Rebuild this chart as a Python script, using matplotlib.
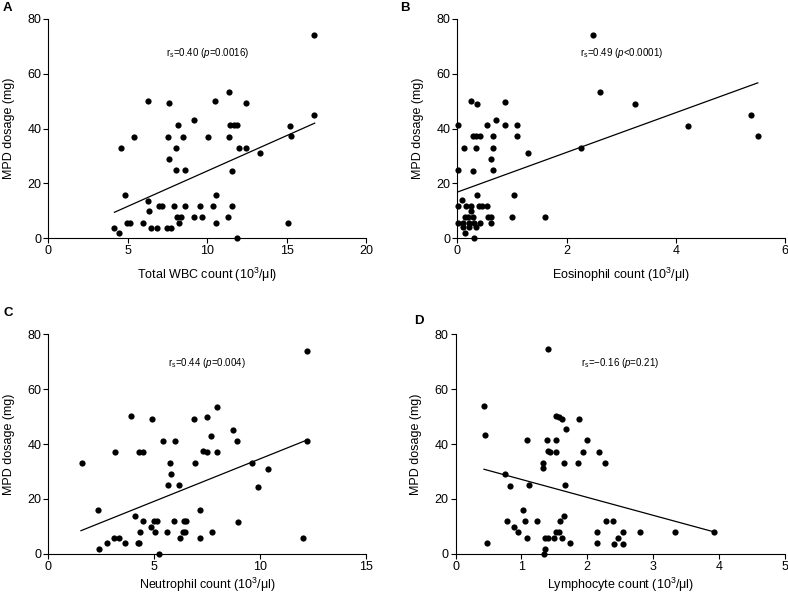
import numpy as np
import matplotlib
matplotlib.use("Agg")
import matplotlib.pyplot as plt

plt.rcParams['font.family'] = ['Liberation Sans', 'DejaVu Sans']
plt.rcParams['mathtext.fontset'] = 'custom'
plt.rcParams['mathtext.rm'] = 'Liberation Sans'
plt.rcParams['mathtext.it'] = 'Liberation Sans:italic'

# MPD dosage (mg) against blood counts (10^3/ul)
wbc_x = [4.14, 4.45, 4.56, 4.83, 4.92, 5.15, 5.38, 5.95, 6.24, 6.24, 6.33, 6.47, 6.85, 6.95,
         7.14, 7.46, 7.69, 7.52, 7.56, 7.56, 7.92, 8.0, 8.05, 8.17, 8.11, 8.36, 8.24, 8.47,
         8.59, 8.59, 9.18, 9.18, 9.52, 9.66, 10.06, 10.33, 10.46, 10.52, 10.52, 11.32, 11.34,
         11.34, 11.45, 11.66, 11.87, 11.53, 11.53, 11.87, 12.0, 12.46, 12.46, 13.34, 15.06,
         15.19, 15.29, 16.72, 16.72]
wbc_y = [3.8, 1.8, 33.1, 15.8, 5.7, 5.7, 37.1, 5.7, 50.0, 13.7, 9.8, 3.8, 3.8, 11.7,
         11.7, 3.8, 3.8, 37.1, 49.2, 29.1, 11.7, 25.0, 33.1, 41.2, 7.8, 7.8, 5.7, 37.1,
         25.0, 11.7, 43.2, 7.8, 11.7, 7.8, 37.1, 11.7, 50.0, 15.8, 5.7, 7.8, 53.5,
         37.1, 41.2, 41.2, 41.2, 24.6, 11.7, 0.0, 33.1, 33.1, 49.2, 31.0, 5.7,
         41.0, 37.5, 45.1, 74.0]

eos_x = [0.02, 0.02, 0.02, 0.02, 0.09, 0.10, 0.11, 0.13, 0.15, 0.15, 0.19, 0.16, 0.21, 0.22,
         0.25, 0.25, 0.26, 0.28, 0.29, 0.29, 0.30, 0.30, 0.34, 0.35, 0.35, 0.36, 0.36, 0.41,
         0.40, 0.41, 0.46, 0.54, 0.54, 0.56, 0.62, 0.62, 0.62, 0.66, 0.66, 0.66, 0.71, 0.88,
         0.88, 1.00, 1.04, 1.09, 1.10, 1.30, 1.60, 2.26, 2.48, 2.61, 3.26, 4.23, 5.38, 5.50]
eos_y = [41.2, 25.0, 11.8, 5.7, 13.9, 5.7, 4.0, 33.1, 1.8, 7.7, 7.7, 11.8, 5.7, 4.0,
         11.8, 50.1, 9.8, 37.2, 24.7, 7.7, 5.7, 0.0, 37.2, 33.1, 4.0, 49.1, 15.7, 37.2,
         11.8, 5.7, 11.8, 11.8, 41.2, 7.7, 7.7, 28.9, 5.7, 37.2, 33.1, 25.0, 43.0, 49.8,
         41.2, 7.7, 15.7, 41.2, 37.2, 31.0, 7.7, 33.0, 74.0, 53.5, 49.1, 41.0, 45.1, 37.5]

neu_x = [1.57, 2.36, 2.41, 2.77, 3.11, 3.32, 3.13, 3.63, 3.90, 4.11, 4.22, 4.29, 4.26, 4.48,
         4.33, 4.48, 4.83, 4.89, 4.99, 5.11, 5.03, 5.24, 5.42, 5.63, 5.62, 5.72, 5.77, 5.95,
         5.99, 6.16, 6.21, 6.35, 6.45, 6.40, 6.51, 6.89, 6.90, 7.14, 7.14, 7.28, 7.47, 7.49,
         7.69, 7.72, 7.97, 7.97, 8.73, 8.89, 8.93, 9.63, 9.90, 10.35, 11.99, 12.21, 12.21]
neu_y = [33.1, 15.8, 1.7, 3.8, 5.8, 5.8, 37.0, 3.8, 50.2, 13.7, 3.8, 3.8, 37.0, 37.0,
         7.8, 11.8, 9.7, 49.0, 11.8, 11.8, 7.8, 0.0, 41.0, 24.9, 7.8, 33.1, 29.1, 11.8,
         41.0, 24.9, 5.8, 7.8, 7.8, 11.8, 11.8, 49.0, 33.1, 15.8, 5.8, 37.6, 37.0, 50.0,
         43.0, 7.8, 53.6, 37.0, 45.1, 41.1, 11.7, 33.0, 24.5, 31.0, 5.6, 74.1, 41.1]

lym_x = [0.43, 0.45, 0.48, 0.75, 0.78, 0.83, 0.88, 0.95, 1.02, 1.06, 1.08, 1.09, 1.11, 1.23,
         1.33, 1.33, 1.34, 1.35, 1.36, 1.40, 1.38, 1.41, 1.41, 1.44, 1.49, 1.52, 1.57, 1.61,
         1.53, 1.53, 1.53, 1.57, 1.59, 1.61, 1.65, 1.65, 1.66, 1.68, 1.74, 1.86, 1.88, 1.94,
         1.99, 2.14, 2.14, 2.18, 2.27, 2.28, 2.39, 2.40, 2.47, 2.54, 2.55, 2.80, 3.34, 3.92]
lym_y = [53.7, 43.2, 3.8, 29.1, 11.8, 24.7, 9.8, 7.8, 15.8, 11.8, 41.3, 5.6, 25.2, 11.8,
         33.2, 31.4, 0.0, 1.8, 5.6, 5.6, 41.3, 74.5, 37.6, 37.1, 5.6, 50.1, 50.0, 49.2,
         41.3, 37.1, 7.8, 7.8, 11.8, 5.6, 13.9, 33.2, 25.2, 45.3, 3.8, 33.2, 49.2, 37.1,
         41.3, 7.8, 3.8, 37.1, 33.2, 11.8, 11.8, 3.6, 5.7, 3.6, 7.8, 7.8, 7.8, 7.8]

# regression line end points as drawn in the figure
wbc_fit_x, wbc_fit_y = [4.16, 16.75], [9.5, 42.0]
eos_fit_x, eos_fit_y = [0.02, 5.50], [17.0, 56.7]
neu_fit_x, neu_fit_y = [1.54, 12.18], [8.4, 41.4]
lym_fit_x, lym_fit_y = [0.43, 3.92], [30.8, 8.0]

panels = [
    # letter, x, y, fit x, fit y, xmax, xstep, xlabel, stats text
    ("A", wbc_x, wbc_y, wbc_fit_x, wbc_fit_y, 20, 5, "Total WBC count (10$^{3}$/\u03bcl)",
     r"r$_{\mathrm{s}}$=0.40 ($\mathit{p}$=0.0016)"),
    ("B", eos_x, eos_y, eos_fit_x, eos_fit_y, 6, 2, "Eosinophil count (10$^{3}$/\u03bcl)",
     r"r$_{\mathrm{s}}$=0.49 ($\mathit{p}$<0.0001)"),
    ("C", neu_x, neu_y, neu_fit_x, neu_fit_y, 15, 5, "Neutrophil count (10$^{3}$/\u03bcl)",
     r"r$_{\mathrm{s}}$=0.44 ($\mathit{p}$=0.004)"),
    ("D", lym_x, lym_y, lym_fit_x, lym_fit_y, 5, 1, "Lymphocyte count (10$^{3}$/\u03bcl)",
     "r$_{\\mathrm{s}}$=\u22120.16 ($\\mathit{p}$=0.21)"),
]

# axes boxes in figure fraction
boxes = [
    [0.0613, 0.6008, 0.4036, 0.3674],
    [0.5803, 0.6008, 0.4160, 0.3674],
    [0.0613, 0.0725, 0.4036, 0.3675],
    [0.5783, 0.0725, 0.4175, 0.3675],
]
text_y = [0.845, 0.845, 0.869, 0.869]
xlabel_pad = [6, 6, 2.5, 2.5]
letter_pos = [(0.004, 0.987), (0.508, 0.987), (0.004, 0.476), (0.525, 0.463)]

fig = plt.figure(figsize=(7.88, 5.97), dpi=100)

for i, (letter, x, y, fx, fy, xmax, xstep, xlabel, stat) in enumerate(panels):
    ax = fig.add_axes(boxes[i])
    ax.scatter(x, y, s=20, color='black', linewidths=0, clip_on=False, zorder=3)
    ax.plot(fx, fy, color='black', lw=0.9)

    ax.set_xlim(0, xmax)
    ax.set_ylim(0, 80)
    ax.set_xticks(np.arange(0, xmax + 0.01, xstep))
    ax.set_yticks([0, 20, 40, 60, 80])
    ax.spines['top'].set_visible(False)
    ax.spines['right'].set_visible(False)
    for s in ['left', 'bottom']:
        ax.spines[s].set_linewidth(0.8)
    ax.tick_params(direction='out', length=3.5, width=0.8, labelsize=9, pad=1.5)
    ax.set_xlabel(xlabel, fontsize=9, labelpad=xlabel_pad[i])
    ax.set_ylabel("MPD dosage (mg)", fontsize=9, labelpad=9)
    ax.text(0.5, text_y[i], stat, transform=ax.transAxes, ha='center', va='center', fontsize=7)
    fig.text(letter_pos[i][0], letter_pos[i][1], letter, fontsize=9.5, fontweight='bold',
             ha='left', va='center')

fig.savefig("out.png", dpi=100)
